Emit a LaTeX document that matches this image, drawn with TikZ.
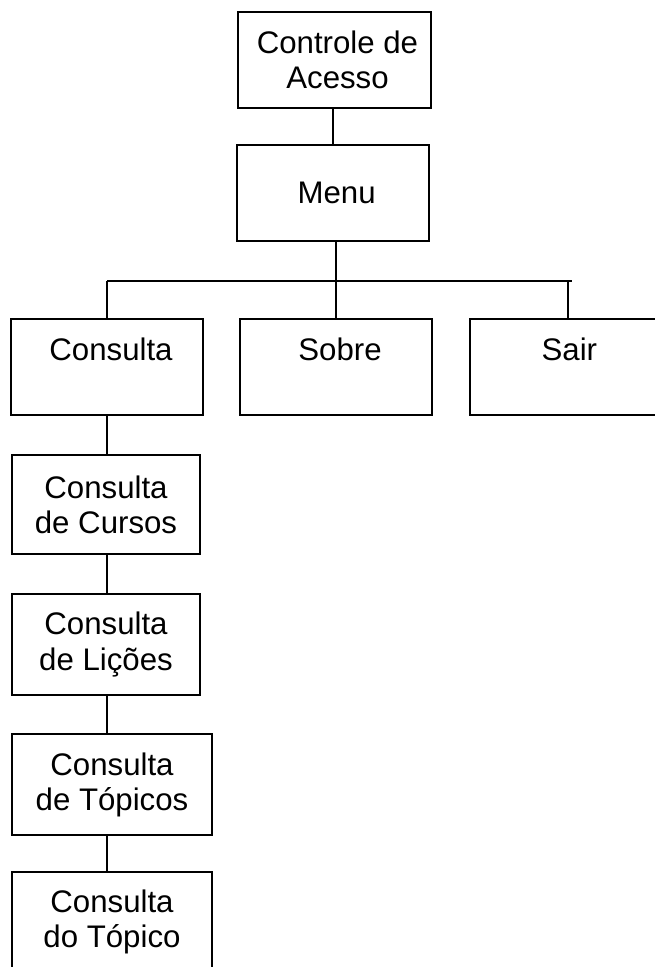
\documentclass[tikz,border=0pt]{standalone}
\usepackage{fontspec}
\setmainfont{Liberation Sans}
\newcommand{\lead}[1]{\hspace*{#1}}
\begin{document}
\begin{tikzpicture}[x=0.75pt,y=-0.75pt,
  box/.style={draw, line width=1.1pt, rectangle, inner sep=0pt, align=center,
    font=\fontsize{23.4}{26.3}\selectfont},
  link/.style={line width=1.1pt}]
\useasboundingbox (0,0) rectangle (655,967);
% top of the tree
\node[box, minimum width=193*0.75pt, minimum height=96*0.75pt] (ctrl) at (334.5,60) {\lead{4.5pt}Controle de\\\lead{4.5pt}Acesso};
\node[box, minimum width=192*0.75pt, minimum height=96*0.75pt] (menu) at (333,193) {\lead{5.5pt}Menu};
% menu options
\node[box, minimum width=192*0.75pt, minimum height=96*0.75pt] (cons) at (107,367) {\lead{6pt}Consulta\\\mbox{}};
\node[box, minimum width=192*0.75pt, minimum height=96*0.75pt] (sobre) at (336,367) {\lead{6pt}Sobre\\\mbox{}};
\node[box, minimum width=188*0.75pt, minimum height=96*0.75pt] (sair) at (564,367) {\lead{8pt}Sair\\\mbox{}};
% query chain
\node[box, minimum width=188*0.75pt, minimum height=99*0.75pt] (cursos) at (106,504.5) {Consulta\\de Cursos};
\node[box, minimum width=188*0.75pt, minimum height=101*0.75pt] (licoes) at (106,644.5) {Consulta\\de Lições};
\node[box, minimum width=200*0.75pt, minimum height=101*0.75pt] (topicos) at (112,784.5) {Consulta\\de Tópicos};
\node[box, minimum width=200*0.75pt, minimum height=99*0.75pt] (topico) at (112,921.5) {Consulta\\do Tópico};
% connectors
\coordinate (busL) at (107,281);
\coordinate (busR) at (572,281);
\coordinate (sairdrop) at (568,281);
\draw[link] (ctrl.south -| menu.north) -- (menu.north);
\draw[link] (menu.south -| sobre.north) -- (sobre.north);
\draw[link] (busL) -- (busR);
\draw[link] (busL) -- (busL |- cons.north);
\draw[link] (sairdrop) -- (sairdrop |- sair.north);
\draw[link] (busL |- cons.south) -- (busL |- cursos.north);
\draw[link] (busL |- cursos.south) -- (busL |- licoes.north);
\draw[link] (busL |- licoes.south) -- (busL |- topicos.north);
\draw[link] (busL |- topicos.south) -- (busL |- topico.north);
\end{tikzpicture}
\end{document}
